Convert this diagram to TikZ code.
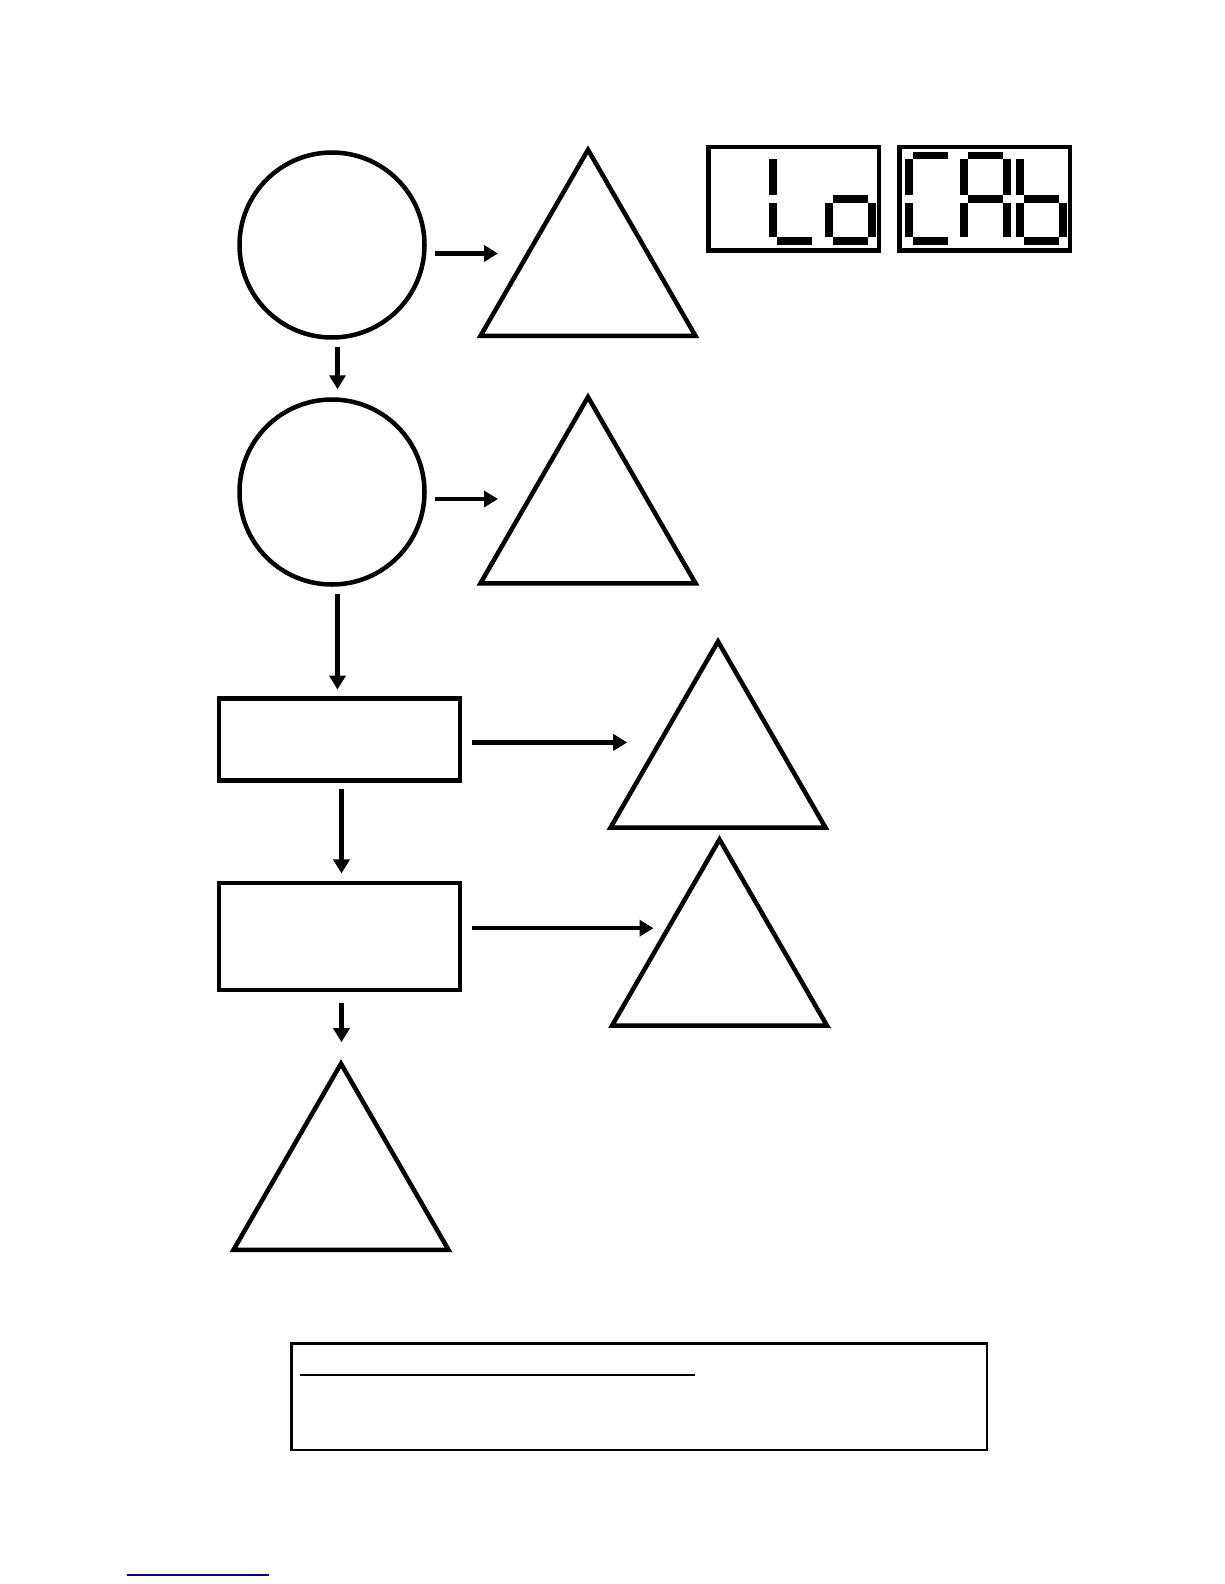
\documentclass[tikz,border=0pt]{standalone}
\usetikzlibrary{shapes.geometric,arrows.meta}
\definecolor{linkblue}{RGB}{0,0,140}
\begin{document}
\begin{tikzpicture}[x=1pt,y=-1pt,
  circ/.style={draw,circle,line width=4.5pt,minimum size=185pt,inner sep=0pt},
  tri/.style={draw,regular polygon,regular polygon sides=3,line width=4.5pt,minimum size=248.3pt,inner sep=0pt},
  box/.style={draw,rectangle,line width=4.5pt,minimum width=241pt,inner sep=0pt},
  lcd/.style={draw,rectangle,line width=4.5pt,minimum width=170.5pt,minimum height=103.5pt,inner sep=0pt},
  arr/.style={line width=4.3pt,-{Triangle[length=14pt,width=16pt]}},
  seg a/.pic={\fill (8.3,7.3) rectangle (43.3,14.7);},
  seg b/.pic={\fill (43.3,14.7) rectangle (51.3,50.7);},
  seg c/.pic={\fill (43.3,58) rectangle (51.3,92.3);},
  seg d/.pic={\fill (8.3,92.3) rectangle (43.3,100);},
  seg e/.pic={\fill (0,58) rectangle (8.3,92.3);},
  seg f/.pic={\fill (0,14.7) rectangle (8.3,50.7);},
  seg g/.pic={\fill (8.3,50.7) rectangle (43.3,58);}]
\useasboundingbox (0,0) rectangle (1224,1584);

% main column
\node[circ] (c1) at (332,245) {};
\node[circ] (c2) at (332,492) {};
\node[box,minimum height=82pt] (r1) at (339.5,739.5) {};
\node[box,minimum height=107pt] (r2) at (339.5,936.5) {};
\node[tri] (t5) at (341,1187.8) {};

% side triangles
\node[tri] (t1) at (588,273.9) {};
\node[tri] (t2) at (588,521.2) {};
\node[tri] (t3) at (718,765.6) {};
\node[tri] (t4) at (719.5,963.6) {};

% arrow ends
\coordinate (e1) at (498,253.5);
\coordinate (e2) at (498,499);
\coordinate (e3) at (627.2,742.4);
\coordinate (e4) at (653.5,928.2);

\draw[arr,shorten <=8.5pt] (c1.east |- e1) -- (e1);
\draw[arr,shorten <=8.5pt] (c2.east |- e2) -- (e2);
\draw[arr,shorten <=9.7pt] (r1.east |- e3) -- (e3);
\draw[arr,shorten <=9.7pt] (r2.east |- e4) -- (e4);
\draw[arr,shorten <=7pt,shorten >=8pt] ([xshift=5.5pt]c1.south) -- ([xshift=5.5pt]c2.north);
\draw[arr,shorten <=7pt,shorten >=6.7pt] ([xshift=5.5pt]c2.south) -- ([xshift=5.5pt]c2.south |- r1.north);
\draw[arr,shorten <=6.3pt,shorten >=7.3pt] ([xshift=2pt]r1.south) -- ([xshift=2pt]r2.north);
\draw[arr,shorten <=11pt,shorten >=17pt] ([xshift=2pt]r2.south) -- ([xshift=2pt]r2.south |- t5.corner 1);

% display
\node[lcd] (lcd1) at (793.5,198.5) {};
\node[lcd] (lcd2) at (984.5,198.5) {};
\begin{scope}[shift={(706,144.5)}]
  \foreach \s in {d,e,f} \pic at (63,0) {seg \s};
  \foreach \s in {c,d,e,g} \pic at (119,0) {seg \s};
\end{scope}
\begin{scope}[shift={(897,144.5)}]
  \foreach \s in {a,d,e,f} \pic at (8,0) {seg \s};
  \foreach \s in {a,b,c,e,f,g} \pic at (63,0) {seg \s};
  \foreach \s in {c,d,e,f,g} \pic at (119,0) {seg \s};
\end{scope}

% note box
\node[draw,rectangle,line width=2.5pt,minimum width=695.5pt,minimum height=106.5pt,inner sep=0pt] (note) at (639,1396.5) {};
\draw[line width=2pt] (300,1375) -- (695,1375);

\draw[linkblue,line width=1.2pt] (126.5,1575) -- (269,1575);
\end{tikzpicture}
\end{document}
